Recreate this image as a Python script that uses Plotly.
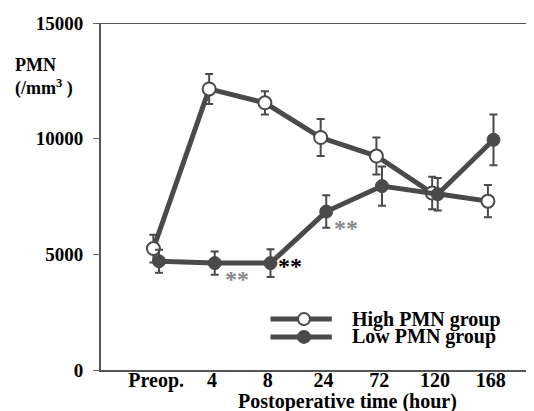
import plotly.graph_objects as go

categories = ["Preop.", "4", "8", "24", "72", "120", "168"]
high_vals = [5250, 12150, 11550, 10050, 9250, 7650, 7300]
high_err = [600, 650, 500, 800, 800, 700, 700]
low_vals = [4700, 4620, 4620, 6850, 7950, 7600, 9950]
low_err = [500, 500, 600, 700, 850, 700, 1100]
y_ticks = [0, 5000, 10000, 15000]

LINE = "#4a4a4a"
FONT = "Liberation Serif"
xi = list(range(len(categories)))
off = 0.05

fig = go.Figure()
fig.add_trace(go.Scatter(
    x=[i - off for i in xi], y=high_vals, mode="lines+markers", name="High PMN group",
    line=dict(color=LINE, width=5),
    marker=dict(symbol="circle", size=13, color="white", line=dict(color=LINE, width=2)),
    error_y=dict(type="data", array=high_err, color=LINE, thickness=2, width=4),
))
fig.add_trace(go.Scatter(
    x=[i + off for i in xi], y=low_vals, mode="lines+markers", name="Low PMN group",
    line=dict(color=LINE, width=5),
    marker=dict(symbol="circle", size=13, color=LINE, line=dict(color=LINE, width=1)),
    error_y=dict(type="data", array=low_err, color=LINE, thickness=2, width=4),
))

fig.update_layout(
    width=534, height=411,
    margin=dict(l=93, r=0, t=15, b=49),
    paper_bgcolor="white", plot_bgcolor="white",
    showlegend=False,
    font=dict(family=FONT, color="black", size=16),
    xaxis=dict(
        range=[-0.99, 6.92], tickmode="array", tickvals=xi, ticktext=categories,
        showgrid=False, zeroline=False, showline=True, linecolor="#555", linewidth=2,
        ticks="", ticklabelstandoff=-9,
        tickfont=dict(family=FONT, size=20, color="black", weight="bold"),
    ),
    yaxis=dict(
        range=[0, 15000], tickvals=y_ticks, ticktext=[str(v) for v in y_ticks],
        showgrid=False, zeroline=False, showline=True, linecolor="#555", linewidth=2,
        ticks="outside", ticklen=6, tickcolor="#666", ticklabelstandoff=6,
        tickfont=dict(family=FONT, size=19, color="black", weight="bold"),
    ),
)

# top frame line
fig.add_shape(type="line", xref="paper", yref="y", x0=-0.012, x1=1, y0=15000, y1=15000,
              line=dict(color="#555", width=2))

fig.add_annotation(xref="paper", yref="paper", x=0.56, y=-0.09, yanchor="middle",
                   text="<b>Postoperative time (hour)</b>", showarrow=False,
                   font=dict(family=FONT, size=20))

fig.add_annotation(xref="paper", yref="paper", x=-0.2, y=0.845, xanchor="left",
                   yanchor="middle",
                   text="<b>PMN<br>(/mm<sup>3</sup> )</b>", showarrow=False, align="left",
                   font=dict(family=FONT, size=18))

# significance marks
fig.add_annotation(x=1.45, y=3950, text="<b>**</b>", showarrow=False,
                   font=dict(family=FONT, size=24, color="#888"))
fig.add_annotation(x=2.4, y=4500, text="<b>**</b>", showarrow=False,
                   font=dict(family=FONT, size=24, color="black"))
fig.add_annotation(x=3.4, y=6150, text="<b>**</b>", showarrow=False,
                   font=dict(family=FONT, size=24, color="#888"))

# legend drawn manually
leg_y = [2200, 1430]
names = ["High PMN group", "Low PMN group"]
fills = ["white", LINE]
for yy, nm, fc in zip(leg_y, names, fills):
    fig.add_trace(go.Scatter(x=[2.05, 3.15], y=[yy, yy], mode="lines",
                             line=dict(color=LINE, width=5), hoverinfo="skip"))
    fig.add_trace(go.Scatter(x=[2.65], y=[yy], mode="markers",
                             marker=dict(size=12, color=fc, line=dict(color=LINE, width=2)),
                             hoverinfo="skip"))
    fig.add_annotation(x=3.5, y=yy, text=f"<b>{nm}</b>", showarrow=False, xanchor="left",
                       borderpad=0,
                       font=dict(family=FONT, size=20, color="black"))

fig.write_html("out.html")
